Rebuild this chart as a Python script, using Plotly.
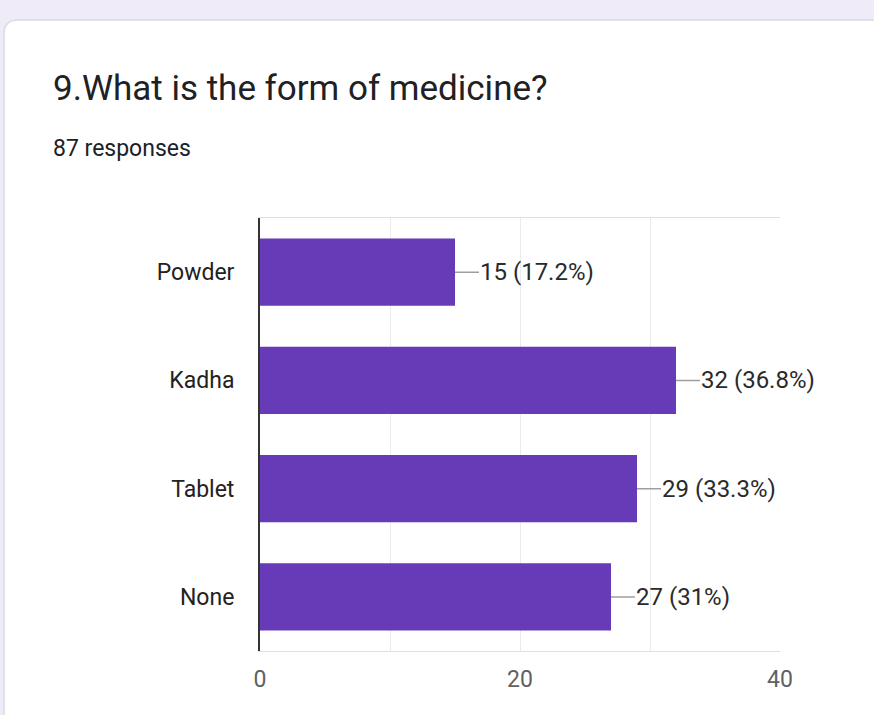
import plotly.graph_objects as go

# survey question 9, 87 responses
title = "9.What is the form of medicine?"
subtitle = "87 responses"
forms = ["Powder", "Kadha", "Tablet", "None"]
counts = [15, 32, 29, 27]
total = 87
x_ticks = [0, 10, 20, 30, 40]
x_tick_text = ["0", "", "20", "", "40"]

W, H = 874, 715
L, R, T, B = 260, 94, 218, 64
PW, PH = W - L - R, H - T - B


def px(x):
    return (x - L) / PW


def py(y):
    return (H - B - y) / PH


def pct(c):
    p = round(c / total * 100, 1)
    s = f"{p:.1f}".rstrip("0").rstrip(".")
    return f"{c} ({s}%)"


fig = go.Figure()
fig.add_trace(go.Bar(
    x=counts, y=forms, orientation="h", width=0.62,
    marker=dict(color="#673ab7", line=dict(width=0)),
    hoverinfo="skip",
))

for f, c in zip(forms, counts):
    fig.add_annotation(
        x=c, y=f, xref="x", yref="y", text=pct(c),
        showarrow=True, arrowhead=0, arrowwidth=1.5, arrowcolor="#9e9e9e",
        ax=24, ay=0, xanchor="left", yanchor="middle",
        font=dict(family="Roboto", size=24, color="#2a2a2a"),
        borderpad=0,
    )

# card background with rounded top-left corner
r = 14
x0, y0, x1, y1 = 4, 20, 960, 760
card = (f"M {px(x0)},{py(y0 + r)} Q {px(x0)},{py(y0)} {px(x0 + r)},{py(y0)} "
        f"L {px(x1)},{py(y0)} L {px(x1)},{py(y1)} L {px(x0)},{py(y1)} Z")
fig.add_shape(type="path", path=card, xref="paper", yref="paper",
              fillcolor="white", line=dict(color="#dadce0", width=1.5),
              layer="below")

fig.add_annotation(x=px(51), y=py(88), xref="paper", yref="paper",
                   text=title, showarrow=False, xanchor="left", yanchor="middle",
                   font=dict(family="Roboto", size=35, color="#202124"))
fig.add_annotation(x=px(51), y=py(148), xref="paper", yref="paper",
                   text=subtitle, showarrow=False, xanchor="left", yanchor="middle",
                   font=dict(family="Roboto", size=23, color="#202124"))

fig.update_layout(
    width=W, height=H,
    margin=dict(l=L, r=R, t=T, b=B, pad=0),
    paper_bgcolor="#efebf8", plot_bgcolor="white",
    showlegend=False,
    xaxis=dict(range=[0, 40], tickvals=x_ticks, ticktext=x_tick_text,
               showgrid=True, gridcolor="#ebebeb", gridwidth=1,
               zeroline=False, showline=True, linecolor="#e0e0e0",
               linewidth=1, mirror=True,
               ticks="outside", ticklen=7, tickcolor="rgba(0,0,0,0)",
               tickfont=dict(family="Roboto", size=23, color="#616161"),
               fixedrange=True),
    yaxis=dict(categoryorder="array", categoryarray=forms[::-1],
               showgrid=False, zeroline=False, showline=True,
               linecolor="#333333", linewidth=2,
               ticks="outside", ticklen=19, tickcolor="rgba(0,0,0,0)",
               tickfont=dict(family="Roboto", size=23, color="#222222"),
               fixedrange=True),
)

fig.write_html("out.html", config={"displayModeBar": False},
               post_script="document.body.style.margin='0';"
                           "document.body.style.overflow='hidden';")
